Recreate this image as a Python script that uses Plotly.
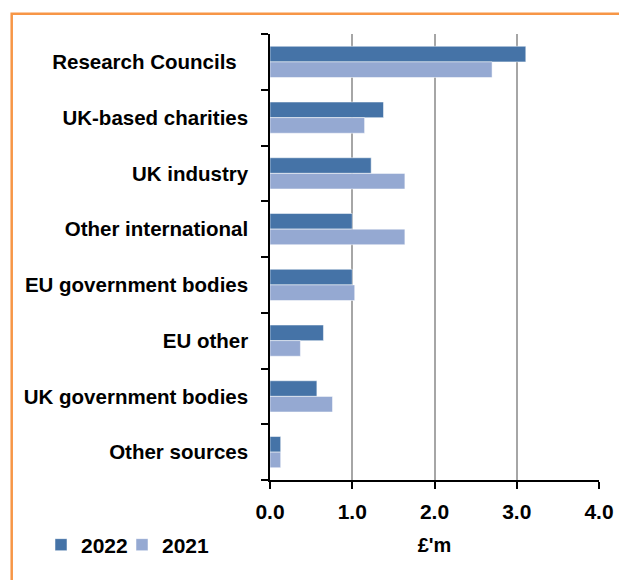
import plotly.graph_objects as go

categories = ["Research Councils", "UK-based charities", "UK industry", "Other international",
              "EU government bodies", "EU other", "UK government bodies", "Other sources"]
tick_labels = ["Research Councils\u00a0\u00a0", "UK-based charities", "UK industry", "Other international",
               "EU government bodies", "EU other", "UK government bodies", "Other sources"]
values_2022 = [3.11, 1.38, 1.23, 1.00, 1.00, 0.65, 0.57, 0.13]
values_2021 = [2.70, 1.15, 1.64, 1.64, 1.03, 0.37, 0.76, 0.13]
x_ticks = [0, 1, 2, 3, 4]

FONT = "Liberation Sans"
W, H = 619, 580
ml, mr, mt, mb = 270, 20, 34, 100
pw, ph = W - ml - mr, H - mt - mb

fig = go.Figure()
fig.add_trace(go.Bar(y=categories, x=values_2022, name="2022", orientation="h", legend="legend",
                     marker=dict(color="#4573A7", line=dict(color="rgba(255,255,255,0.5)", width=1))))
fig.add_trace(go.Bar(y=categories, x=values_2021, name="2021", orientation="h", legend="legend2",
                     marker=dict(color="#95A9D2", line=dict(color="rgba(255,255,255,0.5)", width=1))))

# orange frame (paper coords computed from pixel positions)
fx0 = (11.7 - ml) / pw
fy1 = (H - mb - 13.7) / ph
fig.add_shape(type="rect", xref="paper", yref="paper", x0=fx0, x1=1.3, y0=-0.5, y1=fy1,
              line=dict(color="#F79646", width=2.5), layer="below")

legend_common = dict(orientation="h", xanchor="left", yanchor="middle", y=(H - mb - 545) / ph,
                     font=dict(family=FONT, size=21, color="black", weight=700),
                     itemwidth=30, bgcolor="rgba(0,0,0,0)")

fig.update_layout(
    width=W, height=H,
    margin=dict(l=ml, r=mr, t=mt, b=mb, autoexpand=False),
    paper_bgcolor="white", plot_bgcolor="white",
    barmode="group", bargap=0.44, bargroupgap=0,
    font=dict(family=FONT, size=20, color="black", weight=700),
    showlegend=True,
    legend=dict(x=(41 - ml) / pw, **legend_common),
    legend2=dict(x=(122 - ml) / pw, **legend_common),
    xaxis=dict(range=[0, 4], tickvals=x_ticks, tickformat=".1f", showgrid=True,
               gridcolor="#A6A6A6", gridwidth=1.5, zeroline=False,
               showline=True, linecolor="black", linewidth=1.5,
               ticks="outside", ticklen=7, tickcolor="black", tickwidth=1.5,
               tickfont=dict(family=FONT, size=21, color="black", weight=700),
               ticklabelstandoff=5,
               title=dict(text="£'m", font=dict(family=FONT, size=20, color="black", weight=700), standoff=16),
               automargin=False, fixedrange=True),
    yaxis=dict(type="category", autorange="reversed", tickson="boundaries",
               tickvals=categories, ticktext=tick_labels,
               showgrid=False, zeroline=False, showline=True, linecolor="black", linewidth=1.5,
               ticks="outside", ticklen=7, tickcolor="black", tickwidth=1.5,
               tickfont=dict(family=FONT, size=20.5, color="black", weight=700),
               ticklabelstandoff=16, automargin=False, fixedrange=True),
)

fig.write_html("out.html")
